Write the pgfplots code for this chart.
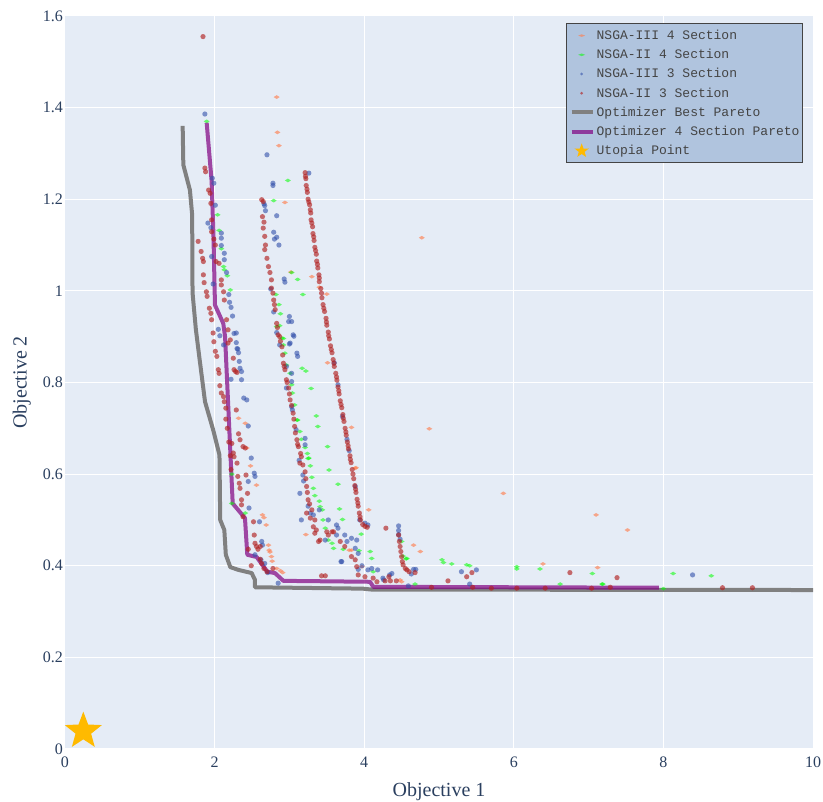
\documentclass[border=0pt]{standalone}
\usepackage{pgfplots}
\pgfplotsset{compat=1.18}
\usepackage{fontspec}
\setmainfont{Liberation Serif}
\newfontfamily\mono{Liberation Mono}
\definecolor{bgc}{HTML}{E5ECF6}
\definecolor{txtc}{HTML}{2A3F5F}
\definecolor{legbg}{RGB}{176,196,222}
\definecolor{legdraw}{RGB}{68,68,68}
\definecolor{legtxt}{RGB}{68,68,68}
\definecolor{cred}{RGB}{178,34,34}
\definecolor{cblue}{RGB}{50,80,170}
\definecolor{cgreen}{RGB}{0,255,0}
\definecolor{corange}{RGB}{255,127,80}
\definecolor{cgray}{RGB}{128,128,128}
\definecolor{cpurple}{RGB}{128,0,128}
\definecolor{starc}{RGB}{255,186,0}
\pgfdeclareplotmark{fstar}{%
 \pgfpathmoveto{\pgfpointpolar{90}{\pgfplotmarksize}}%
 \pgfpathlineto{\pgfpointpolar{126}{0.42*\pgfplotmarksize}}%
 \pgfpathlineto{\pgfpointpolar{162}{\pgfplotmarksize}}%
 \pgfpathlineto{\pgfpointpolar{198}{0.42*\pgfplotmarksize}}%
 \pgfpathlineto{\pgfpointpolar{234}{\pgfplotmarksize}}%
 \pgfpathlineto{\pgfpointpolar{270}{0.42*\pgfplotmarksize}}%
 \pgfpathlineto{\pgfpointpolar{306}{\pgfplotmarksize}}%
 \pgfpathlineto{\pgfpointpolar{342}{0.42*\pgfplotmarksize}}%
 \pgfpathlineto{\pgfpointpolar{18}{\pgfplotmarksize}}%
 \pgfpathlineto{\pgfpointpolar{54}{0.42*\pgfplotmarksize}}%
 \pgfpathclose\pgfusepathqfill}
\tikzset{legbox/.style={draw=none, fill=none}}
\begin{document}
\begin{tikzpicture}
\useasboundingbox (-65pt,-53pt) rectangle (758pt,749pt);
\begin{axis}[
 scale only axis, width=748pt, height=733pt,
 xmin=0, xmax=10, ymin=0, ymax=1.6,
 clip=false,
 axis background/.style={fill=bgc},
 axis line style={draw=none},
 major tick length=0pt,
 grid=major, grid style={white, line width=1pt},
 xtick={0,2,4,6,8,10},
 ytick={0,0.2,0.4,0.6,0.8,1,1.2,1.4,1.6},
 /pgf/number format/assume math mode=true,
 tick label style={font=\fontsize{16}{16}\selectfont, text=txtc},
 yticklabel style={inner sep=0pt, xshift=-2pt},
 xticklabel style={inner sep=0pt, yshift=-8pt},
 xlabel={Objective 1}, ylabel={Objective 2},
 label style={font=\fontsize{20}{20}\selectfont, text=txtc},
 xlabel style={at={(axis description cs:0.5,0)}, anchor=north, inner sep=0pt, yshift=-33pt},
 ylabel style={at={(axis description cs:-0.0455,0.5)}, anchor=south, inner sep=0pt},
 legend cell align=left,
 legend style={at={(axis description cs:1,1)}, anchor=north east, xshift=-10pt, yshift=-7pt,
   fill=legbg, draw=legdraw, line width=1pt, inner xsep=3pt, inner ysep=2.5pt,
   font=\mono\fontsize{13}{15}\selectfont, text=legtxt, row sep=0pt,
   nodes={inner sep=0pt, text height=13.6pt, text depth=5.6pt}},
]
% NSGA-III 4 Section (orange)
\addplot[only marks, mark=diamond*, mark size=1.9pt,
  mark options={xscale=2.1, fill=corange, fill opacity=0.65, draw opacity=0},
  legend image code/.code={\path[legbox] (0pt,-3pt) rectangle (25pt,3pt);
    \path[draw=none, fill=corange, fill opacity=0.65] (10pt,-1.3pt) -- (13.5pt,0pt) -- (10pt,1.3pt) -- (6.5pt,0pt) -- cycle;}]
coordinates {
(2.83,1.423)(2.84,1.346)(2.86,1.317)(2.94,1.193)(4.77,1.116)(3.02,1.041)(3.30,1.031)(3.40,1.008)
(3.50,0.993)(3.51,0.843)(3.83,0.702)(3.89,0.614)(4.06,0.522)(2.41,0.711)(2.32,0.722)(2.43,0.657)
(2.48,0.618)(2.56,0.576)(2.64,0.511)(2.69,0.489)(2.72,0.445)(2.73,0.434)(2.76,0.420)(2.77,0.410)
(2.83,0.394)(2.88,0.389)(2.91,0.385)(3.22,0.468)(3.83,0.434)(3.97,0.398)(4.66,0.445)(4.75,0.431)
(4.87,0.699)(5.86,0.558)(7.10,0.511)(7.52,0.478)(6.39,0.404)(7.12,0.396)(4.48,0.369)(4.50,0.365)
(3.88,0.613)(3.80,0.434)(2.66,0.505)(2.74,0.430)
};
\addlegendentry{NSGA-III 4 Section}
% NSGA-II 4 Section (green)
\addplot[only marks, mark=diamond*, mark size=1.9pt,
  mark options={xscale=2.1, fill=cgreen, fill opacity=0.55, draw opacity=0},
  legend image code/.code={\path[legbox] (0pt,-3pt) rectangle (25pt,3pt);
    \path[draw=none, fill=cgreen, fill opacity=0.55] (10pt,-1.3pt) -- (13.5pt,0pt) -- (10pt,1.3pt) -- (6.5pt,0pt) -- cycle;}]
coordinates {
(1.894,1.370)(2.98,1.241)(2.79,1.197)(2.04,1.166)(2.06,1.132)(2.09,1.092)(2.12,1.053)(2.13,1.046)
(2.17,1.033)(2.21,1.002)(2.82,0.992)(3.11,1.025)(3.18,0.992)(3.03,1.040)(2.83,0.922)(2.87,0.924)
(2.92,0.896)(2.92,0.882)(2.96,0.838)(3.01,0.820)(3.03,0.795)(3.07,0.751)(3.11,0.718)(3.14,0.693)
(3.21,0.658)(3.24,0.645)(3.25,0.634)(3.28,0.618)(3.30,0.593)(3.32,0.569)(3.34,0.553)(3.40,0.541)
(3.41,0.529)(3.44,0.522)(3.45,0.500)(3.48,0.482)(3.52,0.456)(3.57,0.449)(3.59,0.438)(3.72,0.436)
(3.17,0.831)(3.22,0.825)(3.29,0.787)(3.36,0.727)(3.38,0.704)(3.51,0.660)(3.53,0.609)(3.65,0.578)
(3.67,0.524)(3.71,0.501)(3.96,0.469)(4.08,0.431)(4.10,0.416)(3.93,0.433)(4.12,0.387)(4.50,0.453)
(4.57,0.416)(4.68,0.360)(2.23,0.600)(4.52,0.421)(4.56,0.415)(5.04,0.413)(5.06,0.407)(5.17,0.404)
(5.37,0.402)(5.41,0.400)(6.04,0.398)(6.04,0.393)(6.35,0.393)(7.05,0.383)(6.62,0.360)(7.18,0.360)
(8.13,0.383)(8.64,0.378)(7.19,0.360)(8.00,0.350)(2.23,0.536)(2.41,0.515)(2.90,0.897)(2.94,0.864)
(3.04,0.777)(3.10,0.718)(3.16,0.676)(3.26,0.635)(2.88,0.950)(2.86,0.970)
};
\addlegendentry{NSGA-II 4 Section}
% NSGA-III 3 Section (blue)
\addplot[only marks, mark=*, mark size=2.6pt,
  mark options={fill=cblue, fill opacity=0.6, draw opacity=0},
  legend image code/.code={\path[legbox] (0pt,-3pt) rectangle (25pt,3pt);
    \path[draw=none, fill=cblue, fill opacity=0.6] (10pt,0pt) circle (1.5pt);}]
coordinates {
(1.87,1.386)(2.70,1.297)(3.26,1.257)(2.78,1.235)(2.78,1.230)(1.97,1.246)(1.99,1.235)(2.01,1.187)
(2.67,1.186)(2.68,1.175)(2.83,1.164)(2.79,1.128)(2.83,1.117)(2.80,1.113)(2.86,1.100)(1.91,1.148)
(1.95,1.138)(2.09,1.126)(2.09,1.115)(2.09,1.099)(2.13,1.082)(2.13,1.068)(1.96,1.075)(2.16,1.040)
(1.98,1.015)(2.19,0.992)(2.20,0.975)(2.22,0.964)(2.24,0.945)(2.05,0.916)(2.26,0.907)(2.07,0.902)
(2.29,0.887)(2.30,0.874)(2.93,1.026)(2.94,1.019)(2.75,1.004)(2.79,0.954)(3.00,0.944)(2.99,0.933)
(3.03,0.933)(3.06,0.901)(3.00,0.884)(2.12,0.882)(2.29,0.908)(2.31,0.873)(2.32,0.865)(2.33,0.846)
(2.34,0.831)(2.36,0.824)(2.22,0.807)(2.36,0.806)(2.39,0.766)(2.43,0.762)(2.45,0.705)(2.49,0.635)
(2.53,0.602)(2.54,0.595)(2.45,0.584)(2.46,0.526)(2.60,0.496)(2.63,0.453)(2.64,0.445)(2.54,0.424)
(2.62,0.413)(2.67,0.405)(2.71,0.385)(2.85,0.362)(3.14,0.558)(2.83,0.909)(3.05,0.904)(3.01,0.886)
(3.10,0.864)(3.11,0.857)(2.87,0.882)(2.96,0.835)(3.03,0.820)(3.03,0.802)(2.96,0.788)(3.03,0.747)
(3.04,0.740)(3.09,0.697)(3.21,0.678)(3.21,0.664)(3.18,0.598)(3.28,0.515)(3.32,0.511)(3.40,0.522)
(3.16,0.500)(3.52,0.500)(3.63,0.489)(3.65,0.482)(3.48,0.456)(3.63,0.467)(3.74,0.467)(3.83,0.460)
(3.90,0.456)(3.77,0.453)(3.88,0.438)(3.92,0.427)(3.69,0.409)(3.97,0.400)(3.92,0.392)(4.05,0.391)
(4.10,0.394)(4.18,0.391)(4.25,0.373)(4.34,0.380)(3.60,0.843)(3.65,0.795)(3.71,0.726)(3.77,0.676)
(3.80,0.651)(3.88,0.573)(3.94,0.500)(4.01,0.493)(4.05,0.489)(4.46,0.487)(4.46,0.477)(4.46,0.468)
(4.48,0.458)(4.66,0.392)(4.69,0.392)(5.30,0.387)(5.50,0.391)(4.63,0.382)(4.37,0.383)(4.26,0.369)
(5.41,0.360)(4.59,0.356)(8.39,0.380)(3.70,0.409)(3.13,0.630)(3.19,0.585)(3.25,0.530)(2.66,1.190)
};
\addlegendentry{NSGA-III 3 Section}
% NSGA-II 3 Section (red)
\addplot[only marks, mark=*, mark size=2.6pt,
  mark options={fill=cred, fill opacity=0.65, draw opacity=0},
  legend image code/.code={\path[legbox] (0pt,-3pt) rectangle (25pt,3pt);
    \path[draw=none, fill=cred, fill opacity=0.65] (10pt,0pt) circle (1.5pt);}]
coordinates {
(1.845,1.555)
(1.87,1.268)(1.88,1.260)(1.92,1.220)(1.94,1.213)(1.95,1.191)(1.96,1.155)(1.96,1.129)(1.99,1.113)
(2.01,1.100)(1.78,1.108)(1.82,1.086)(1.84,1.071)(1.85,1.064)(2.02,1.064)(2.06,1.060)(1.85,1.035)
(1.86,1.018)(2.09,1.024)(2.09,1.013)(2.12,0.998)(2.13,0.980)(1.89,0.998)(1.90,0.988)(1.93,0.962)
(1.95,0.951)(1.96,0.937)(1.98,0.908)(1.99,0.889)(2.16,0.937)(2.18,0.915)(2.01,0.868)(2.03,0.857)
(2.05,0.828)(2.06,0.820)(2.07,0.793)(2.09,0.777)(2.12,0.769)(2.13,0.758)(2.15,0.744)(2.25,0.853)
(2.26,0.828)(2.28,0.824)(2.30,0.822)(2.29,0.740)(2.32,0.688)(2.34,0.675)(2.38,0.660)(2.41,0.657)
(2.23,0.667)(2.25,0.646)(2.26,0.638)(2.18,0.886)(2.21,0.893)(2.30,0.624)(2.31,0.595)(2.33,0.580)
(2.34,0.569)(2.42,0.598)(2.44,0.558)(2.36,0.544)(2.36,0.533)(2.38,0.507)(2.52,0.496)(2.53,0.467)
(2.54,0.449)(2.56,0.442)(2.58,0.436)(2.61,0.442)(2.45,0.436)(2.49,0.400)(2.61,0.414)(2.63,0.405)
(2.66,0.394)(2.70,0.387)(2.78,0.394)(2.15,0.720)(2.17,0.700)(2.19,0.670)(2.21,0.640)(2.22,0.610)
(2.63,1.199)(2.65,1.195)(2.64,1.162)(2.65,1.137)(2.67,1.119)(2.67,1.090)(2.70,1.071)(2.72,1.053)
(2.76,1.024)(2.76,1.006)(2.79,0.980)(2.81,0.959)(2.83,0.929)(2.85,0.904)(2.87,0.900)(2.90,0.878)
(2.92,0.842)(2.94,0.828)(2.96,0.806)(2.99,0.788)(3.01,0.762)(3.05,0.733)(3.07,0.704)(3.10,0.675)
(3.12,0.660)(3.16,0.638)(3.14,0.624)(3.21,0.605)(3.23,0.573)(3.25,0.544)(3.30,0.522)(3.34,0.500)
(3.36,0.478)(3.41,0.456)(3.23,0.515)(3.28,0.504)(3.32,0.485)(3.34,0.471)(3.39,0.453)(3.52,0.467)
(3.57,0.474)(3.50,0.474)(3.59,0.474)(3.68,0.453)(3.74,0.442)(3.83,0.420)(3.88,0.413)(3.90,0.398)
(3.92,0.380)(4.01,0.376)(4.12,0.373)(4.17,0.365)(3.43,0.378)(3.48,0.378)
(2.66,1.150)(2.68,1.100)(2.74,1.040)(2.78,0.995)(2.80,0.970)(2.84,0.920)(2.88,0.890)(2.91,0.860)
(2.93,0.835)(2.97,0.800)(3.00,0.775)(3.03,0.750)(3.06,0.720)(3.08,0.690)(3.11,0.665)(3.15,0.645)
(3.18,0.620)(3.22,0.590)(3.24,0.560)(3.27,0.535)
(3.21,1.258)(3.22,1.245)(3.225,1.23)(3.24,1.215)(3.25,1.20)(3.27,1.188)(3.285,1.17)(3.29,1.155)
(3.31,1.14)(3.315,1.125)(3.33,1.11)(3.34,1.095)(3.36,1.08)(3.365,1.065)(3.38,1.05)(3.395,1.035)
(3.40,1.02)(3.42,1.005)(3.435,0.985)(3.45,0.97)(3.47,0.955)(3.49,0.94)(3.50,0.925)(3.52,0.91)
(3.535,0.895)(3.55,0.88)(3.57,0.865)(3.585,0.85)(3.60,0.835)(3.62,0.82)(3.635,0.805)(3.65,0.79)
(3.665,0.775)(3.68,0.76)(3.70,0.745)(3.715,0.73)(3.73,0.715)(3.745,0.70)(3.76,0.685)(3.775,0.67)
(3.79,0.655)(3.81,0.64)(3.825,0.625)(3.84,0.61)(3.86,0.59)(3.875,0.575)(3.89,0.56)(3.905,0.545)
(3.92,0.53)(3.935,0.515)(3.95,0.50)(3.98,0.49)(4.01,0.486)(4.04,0.484)
(3.215,1.25)(3.235,1.222)(3.26,1.194)(3.28,1.177)(3.30,1.148)(3.325,1.118)(3.35,1.088)(3.375,1.058)
(3.40,1.028)(3.43,0.995)(3.46,0.962)(3.495,0.932)(3.525,0.902)(3.56,0.872)(3.595,0.842)(3.63,0.812)
(3.66,0.782)(3.69,0.752)(3.72,0.722)(3.755,0.692)(3.785,0.662)(3.815,0.632)(3.85,0.60)(3.885,0.567)
(3.915,0.537)(3.945,0.507)
(4.46,0.467)(4.47,0.453)(4.48,0.442)(4.49,0.431)(4.50,0.420)(4.51,0.409)(4.52,0.402)(4.55,0.394)
(4.57,0.391)(4.60,0.387)(4.68,0.385)(4.29,0.482)
(4.28,0.367)(4.35,0.367)(4.43,0.367)(4.33,0.376)(5.12,0.367)(5.37,0.376)(5.44,0.385)(6.75,0.385)
(7.38,0.374)(8.79,0.352)(9.19,0.352)(4.90,0.353)(5.45,0.353)(5.70,0.351)(6.04,0.351)(6.42,0.351)
(7.04,0.351)(7.29,0.353)
};
\addlegendentry{NSGA-II 3 Section}
% Optimizer Best Pareto (gray)
\addplot[cgray, line width=4pt, line join=round, no marks,
  legend image code/.code={\path[legbox] (0pt,-3pt) rectangle (25pt,3pt);
    \path[draw=cgray, fill=none, line width=4pt] (0pt,0pt) -- (21pt,0pt);}]
coordinates {
(1.573,1.360)(1.582,1.275)(1.67,1.22)(1.70,1.166)(1.705,0.996)(1.75,0.915)(1.80,0.85)(1.872,0.758)
(1.98,0.697)(2.065,0.642)(2.075,0.50)(2.13,0.478)(2.15,0.424)(2.21,0.397)(2.317,0.391)(2.496,0.384)
(2.54,0.369)(2.54,0.353)(3.98,0.350)(4.10,0.348)(10,0.347)
};
\addlegendentry{Optimizer Best Pareto}
% Optimizer 4 Section Pareto (purple)
\addplot[cpurple, opacity=0.7, line width=4pt, line join=round, no marks,
  legend image code/.code={\path[legbox] (0pt,-3pt) rectangle (25pt,3pt);
    \path[draw=cpurple, fill=none, draw opacity=0.7, line width=4pt] (0pt,0pt) -- (21pt,0pt);}]
coordinates {
(1.894,1.367)(1.96,1.24)(1.985,1.12)(2.005,0.969)(2.116,0.929)(2.14,0.90)(2.242,0.536)(2.406,0.504)
(2.437,0.424)(2.563,0.419)(2.607,0.409)(2.705,0.387)(2.807,0.384)(2.92,0.367)(4.078,0.365)(4.122,0.354)
(7.94,0.352)
};
\addlegendentry{Optimizer 4 Section Pareto}
% Utopia Point
\addplot[only marks, mark=fstar, mark size=19.5pt, color=starc, fill=starc,
  legend image code/.code={\path[legbox] (0pt,-3pt) rectangle (25pt,3pt);
    \path[draw=none, fill=starc] (10pt,7.5pt)
      -- ++(-96:0pt) -- (8.2pt,2.2pt) -- (2.9pt,2.3pt) -- (7.1pt,-1.1pt) -- (5.6pt,-6.1pt)
      -- (10pt,-3.2pt) -- (14.4pt,-6.1pt) -- (12.9pt,-1.1pt) -- (17.1pt,2.3pt) -- (11.8pt,2.2pt) -- cycle;}]
coordinates {(0.245,0.039)};
\addlegendentry{Utopia Point}
\end{axis}
\end{tikzpicture}
\end{document}
